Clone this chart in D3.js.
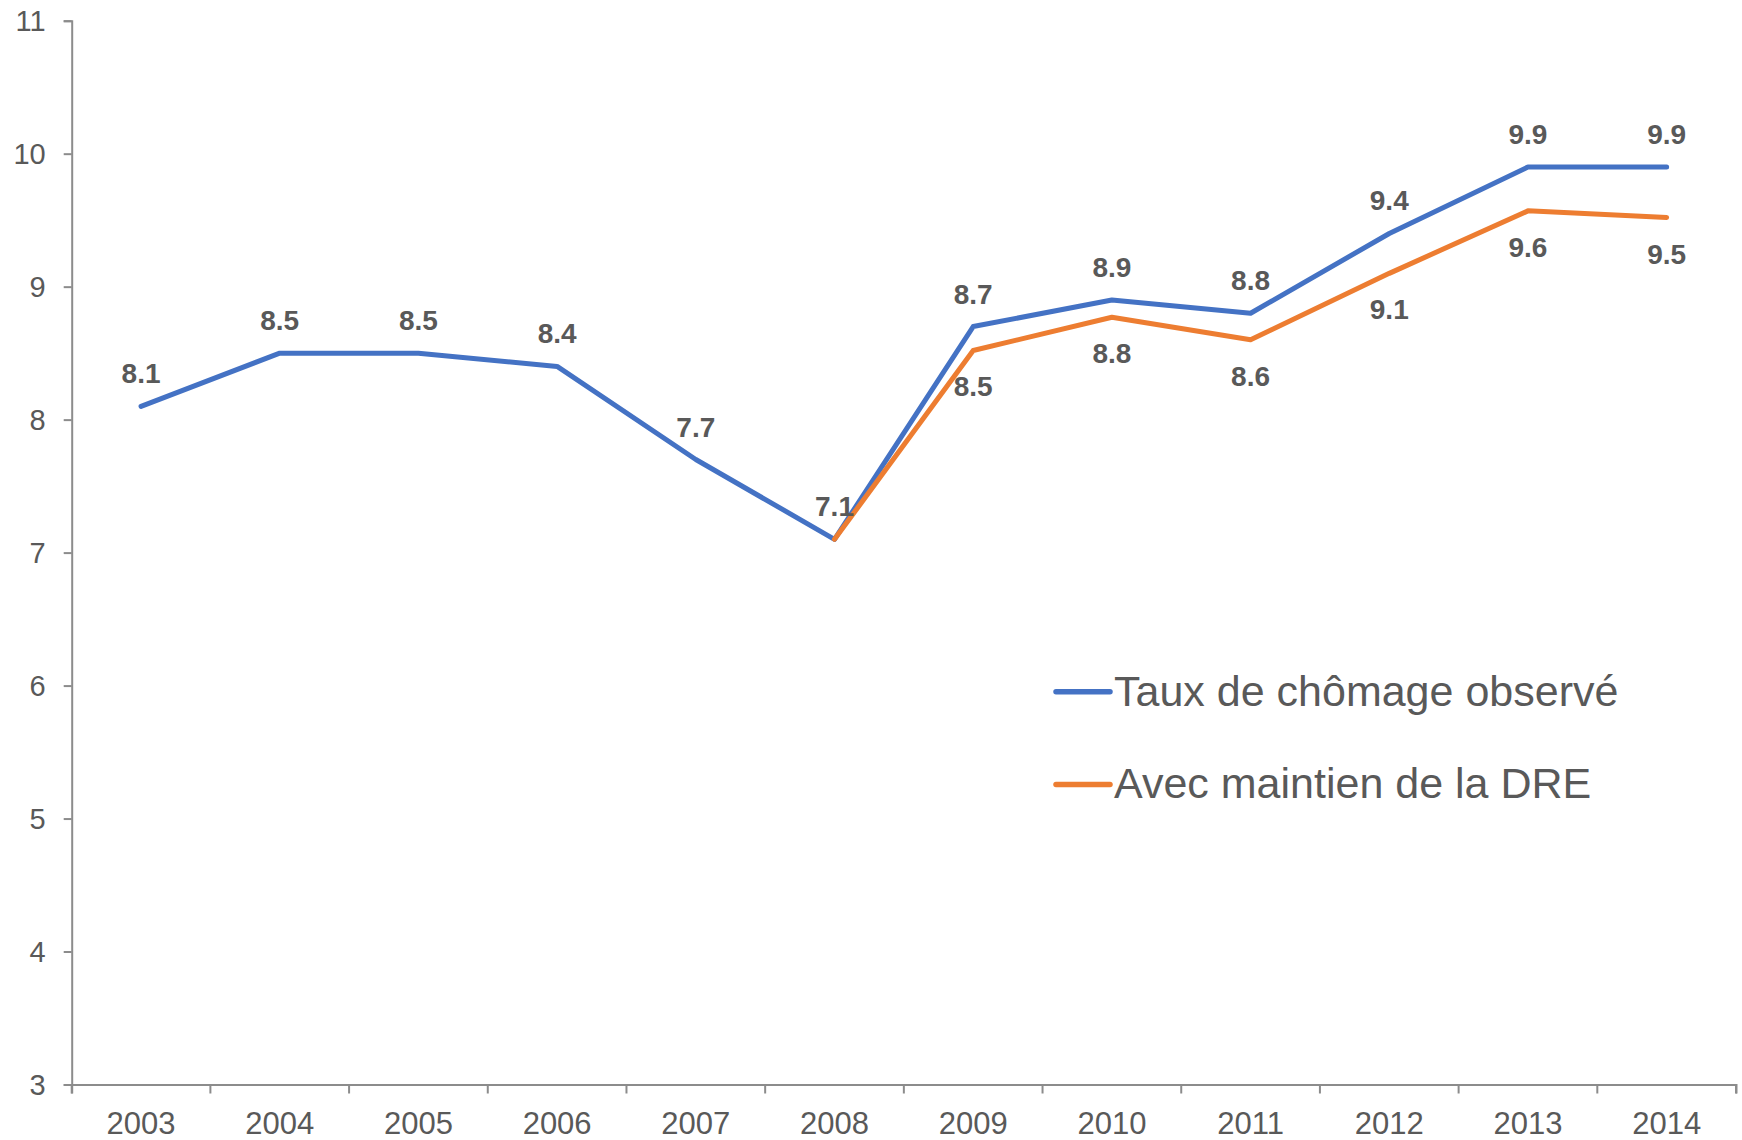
<!DOCTYPE html>
<html>

<head>
  <meta charset="utf-8">
  <title>Taux de chômage</title>
  <style>
    body {
      margin: 0;
      background: #fff;
    }

    svg text {
      font-family: Arial, "Liberation Sans", sans-serif;
      fill: #595959;
    }

    .axis path,
    .axis line {
      stroke: #8c8c8c;
      stroke-width: 2px;
    }
  </style>
</head>

<body>
  <svg width="1742" height="1140"></svg>

  <script src="https://d3js.org/d3.v7.min.js"></script>
  <script>
    // Données
    var years = ["2003", "2004", "2005", "2006", "2007", "2008", "2009", "2010", "2011", "2012", "2013", "2014"];
    var observed = [8.1, 8.5, 8.5, 8.4, 7.7, 7.1, 8.7, 8.9, 8.8, 9.4, 9.9, 9.9];
    var withDRE = [null, null, null, null, null, 7.1, 8.52, 8.77, 8.6, 9.1, 9.57, 9.52];
    var yTicks = [3, 4, 5, 6, 7, 8, 9, 10, 11];
    var seriesNames = ["Taux de chômage observé", "Avec maintien de la DRE"];
    var colors = ["#4472C4", "#ED7D31"];

    var svg = d3.select("svg");

    var x = d3.scaleBand()
      .domain(years)
      .range([71.7, 1736])
      .padding(0);

    var y = d3.scaleLinear()
      .domain([3, 11])
      .range([1084.5, 20.7]);

    // Axe Y
    var yAxis = svg.append("g")
      .attr("class", "axis")
      .attr("transform", "translate(71.7,0)")
      .call(d3.axisLeft(y).tickValues(yTicks).tickSize(8).tickPadding(18).tickFormat(d3.format("d")));
    yAxis.selectAll("text").style("font-size", "29px").attr("dy", "0.35em");

    // Axe X
    var xAxis = svg.append("g")
      .attr("class", "axis")
      .attr("transform", "translate(0,1084.5)")
      .call(d3.axisBottom(x).tickSize(9).tickPadding(0));
    xAxis.selectAll(".tick line").attr("transform", function () {
      return "translate(" + (-x.bandwidth() / 2) + ",0)";
    });
    xAxis.append("line")
      .attr("x1", 1736).attr("x2", 1736)
      .attr("y1", 0).attr("y2", 9)
      .attr("stroke", "#8c8c8c").attr("stroke-width", 2);
    xAxis.selectAll("text").style("font-size", "31px").attr("dy", null).attr("y", 49);

    var cx = function (i) { return x(years[i]) + x.bandwidth() / 2; };

    var line = d3.line()
      .defined(function (d) { return d != null; })
      .x(function (d, i) { return cx(i); })
      .y(function (d) { return y(d); });

    [observed, withDRE].forEach(function (s, k) {
      svg.append("path")
        .datum(s)
        .attr("fill", "none")
        .attr("stroke", colors[k])
        .attr("stroke-width", 5)
        .attr("stroke-linejoin", "round")
        .attr("stroke-linecap", "round")
        .attr("d", line);
    });

    // Étiquettes de données
    svg.selectAll(".lab-obs")
      .data(observed)
      .enter().append("text")
      .attr("class", "lab-obs")
      .attr("x", function (d, i) { return cx(i); })
      .attr("y", function (d) { return y(d) - 23; })
      .attr("text-anchor", "middle")
      .style("font-size", "28px")
      .style("font-weight", "bold")
      .text(function (d) { return d3.format(".1f")(d); });

    svg.selectAll(".lab-dre")
      .data(withDRE)
      .enter().append("text")
      .attr("class", "lab-dre")
      .filter(function (d, i) { return d != null && i > 5; })
      .attr("x", function (d, i) { return cx(withDRE.indexOf(d)); })
      .attr("y", function (d) { return y(d) + 46; })
      .attr("text-anchor", "middle")
      .style("font-size", "28px")
      .style("font-weight", "bold")
      .text(function (d) { return d3.format(".1f")(d); });

    // Légende
    var legend = svg.selectAll(".legend")
      .data(seriesNames)
      .enter().append("g")
      .attr("class", "legend")
      .attr("transform", function (d, i) { return "translate(1056," + (691.7 + i * 92.7) + ")"; });

    legend.append("line")
      .attr("x1", 0).attr("x2", 54)
      .attr("y1", 0).attr("y2", 0)
      .attr("stroke", function (d, i) { return colors[i]; })
      .attr("stroke-width", 5.5)
      .attr("stroke-linecap", "round");

    legend.append("text")
      .attr("x", 58)
      .attr("y", 14)
      .style("font-size", "43px")
      .text(function (d) { return d; });
  </script>
</body>

</html>
